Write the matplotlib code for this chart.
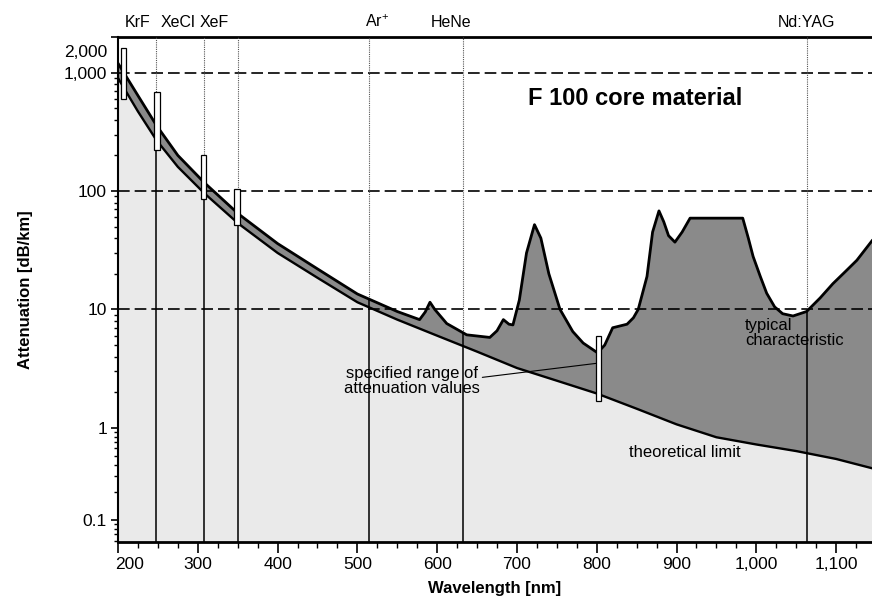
import numpy as np
import matplotlib.pyplot as plt
from matplotlib.ticker import MultipleLocator, FixedLocator, NullFormatter
import matplotlib.transforms as mtransforms

plt.rcParams['font.family'] = ['Liberation Sans', 'DejaVu Sans']
plt.rcParams['mathtext.default'] = 'regular'

# --- data ---
# typical characteristic of F 100 core material
wl_typ = [200, 225, 248, 275, 308, 351, 400, 450, 500, 550, 578, 585, 591, 597,
          612, 637, 666, 675, 683, 690, 695, 703, 712, 722, 730, 740, 754, 770,
          783, 801, 810, 820, 838, 846, 852, 863, 870, 878, 884, 890, 898, 907,
          917, 983, 990, 996, 1005, 1013, 1023, 1033, 1046, 1063, 1080, 1096,
          1112, 1126, 1145]
att_typ = [1200, 640, 360, 200, 118, 64, 36, 22, 13.5, 9.6, 8.2, 9.5, 11.5, 10,
           7.6, 6.1, 5.8, 6.6, 8.2, 7.5, 7.4, 12, 30, 52, 40, 20, 10, 6.5,
           5.2, 4.3, 5.0, 7.0, 7.5, 8.5, 10, 19, 45, 68, 55, 42, 37, 45,
           59, 59, 40, 28, 19, 13.7, 10.5, 9.2, 8.8, 9.6, 12.5, 16.5,
           21, 26, 38]

# theoretical limit
wl_th = [200, 225, 248, 275, 308, 351, 400, 450, 500, 550, 600, 650, 700, 750,
         800, 850, 900, 950, 1000, 1050, 1100, 1145]
att_th = [900, 470, 270, 160, 96, 53, 30, 18.5, 11.5, 8.2, 6.0, 4.4, 3.2, 2.5,
          1.95, 1.45, 1.07, 0.79, 0.66, 0.56, 0.46, 0.365]

# specified range of attenuation values (boxes)
box_wl = [207, 249, 307, 349, 802]
box_lo = [600, 220, 85, 52, 1.7]
box_hi = [1600, 680, 200, 105, 6.0]

# laser lines
laser_names = ['KrF', 'XeCl', 'XeF', 'Ar$^{+}$', 'HeNe', 'Nd:YAG']
laser_wl = [248, 308, 351, 514, 633, 1064]
laser_label_x = [224, 275, 321, 525, 618, 1063]

x_ticks = [200, 300, 400, 500, 600, 700, 800, 900, 1000, 1100]
x_ticklabels = ['200', '300', '400', '500', '600', '700', '800', '900', '1,000', '1,100']
y_ticks = [0.1, 1, 10, 100, 1000, 2000]
y_ticklabels = ['0.1', '1', '10', '100', '1,000', '2,000']
y_minor = [0.06, 0.07, 0.08, 0.09, 0.2, 0.3, 0.4, 0.5, 0.6, 0.7, 0.8, 0.9,
           2, 3, 4, 5, 6, 7, 8, 9, 20, 30, 40, 50, 60, 70, 80, 90,
           200, 300, 400, 500, 600, 700, 800, 900]
grid_levels = [10, 100, 1000]

ymin, ymax = 0.058, 2000
xmin, xmax = 200, 1145

# the decade below 1 dB/km is drawn a little compressed in the original
k_low = 0.78


def fwd(y):
    l = np.log10(np.maximum(y, 1e-12))
    return np.where(l >= 0, l, l * k_low)


def inv(v):
    return np.where(v >= 0, 10.0 ** v, 10.0 ** (v / k_low))


fig = plt.figure(figsize=(8.72, 6.09), dpi=100)
ax = fig.add_axes([118 / 872, (609 - 542) / 609, 1 - 118 / 872, (542 - 37) / 609])
ax.set_yscale('function', functions=(fwd, inv))
ax.set_xlim(xmin, xmax)
ax.set_ylim(ymin, ymax)

# fills: dark up to typical curve, light up to theoretical limit
ax.fill_between(wl_typ, ymin, att_typ, color='#8a8a8a', lw=0, zorder=1)
ax.fill_between(wl_th, ymin, att_th, color='#eaeaea', lw=0, zorder=2)

# dashed grid lines
for g in grid_levels:
    ax.axhline(g, color='black', lw=1.2, ls=(0, (7, 3)), zorder=3)

# laser lines: solid below the curve, dotted above
log_typ = np.log10(att_typ)
for w in laser_wl:
    top = 10 ** np.interp(w, wl_typ, log_typ)
    ax.plot([w, w], [top, ymax], color='#555555', lw=0.8, ls=(0, (1, 1)), zorder=3)
    ax.plot([w, w], [ymin, top], color='black', lw=1.1, zorder=3)

# curves
ax.plot(wl_th, att_th, color='black', lw=1.7, zorder=5)
ax.plot(wl_typ, att_typ, color='black', lw=2.0, zorder=5)

# boxes for specified ranges
ax.bar(box_wl, np.array(box_hi) - np.array(box_lo), bottom=box_lo, width=7,
       color='white', edgecolor='black', lw=0.9, zorder=6)

# laser names above the frame
for name, xl in zip(laser_names, laser_label_x):
    ax.annotate(name, xy=(xl, 1), xycoords=('data', 'axes fraction'),
                xytext=(0, 5), textcoords='offset points',
                ha='center', va='bottom', fontsize=11.5)

# texts
ax.text(848, 604, 'F 100 core material', fontsize=17, fontweight='bold',
        ha='center', va='center', zorder=7)
ax.annotate('specified range of\nattenuation values', xy=(799, 3.5), xytext=(568, 2.5),
            ha='center', va='center', fontsize=12, linespacing=1.0,
            arrowprops=dict(arrowstyle='-', color='black', lw=0.8,
                            shrinkA=0, shrinkB=0, relpos=(1.0, 0.6)),
            zorder=7)
ax.text(986, 6.3, 'typical\ncharacteristic', fontsize=12, ha='left', va='center',
        linespacing=1.0, zorder=7)
ax.text(910, 0.54, 'theoretical limit', fontsize=12, ha='center', va='center', zorder=7)

# axes styling
ax.spines['right'].set_visible(False)
ax.spines['top'].set_linewidth(2)
ax.spines['bottom'].set_linewidth(2)
ax.spines['left'].set_linewidth(1.5)

ax.xaxis.set_major_locator(FixedLocator(x_ticks))
ax.set_xticklabels(x_ticklabels)
ax.xaxis.set_minor_locator(MultipleLocator(25))
ax.yaxis.set_major_locator(FixedLocator(y_ticks))
ax.set_yticklabels(y_ticklabels)
ax.yaxis.set_minor_locator(FixedLocator(y_minor))
ax.yaxis.set_minor_formatter(NullFormatter())
ax.tick_params(which='major', direction='out', width=1.2, labelsize=12.5)
ax.tick_params(axis='x', which='major', length=8, pad=3)
ax.tick_params(axis='x', which='minor', length=4.5, width=1.0, direction='out')
ax.tick_params(axis='y', which='major', length=5, pad=3)
ax.tick_params(axis='y', which='minor', length=3, width=1.0, direction='out')

# "200" starts at the axis corner, "2,000" sits a bit below the top edge
lab0 = ax.get_xticklabels()[0]
lab0.set_ha('left')
lab0.set_transform(lab0.get_transform() + mtransforms.ScaledTranslation(-2 / 72, 0, fig.dpi_scale_trans))
lab = ax.get_yticklabels()[-1]
lab.set_transform(lab.get_transform() + mtransforms.ScaledTranslation(0, -10 / 72, fig.dpi_scale_trans))

ax.set_xlabel('Wavelength [nm]', fontsize=12, fontweight='bold', labelpad=6)
ax.set_ylabel('Attenuation [dB/km]', fontsize=12, fontweight='bold', labelpad=22)

fig.savefig('out.png', dpi=100)
